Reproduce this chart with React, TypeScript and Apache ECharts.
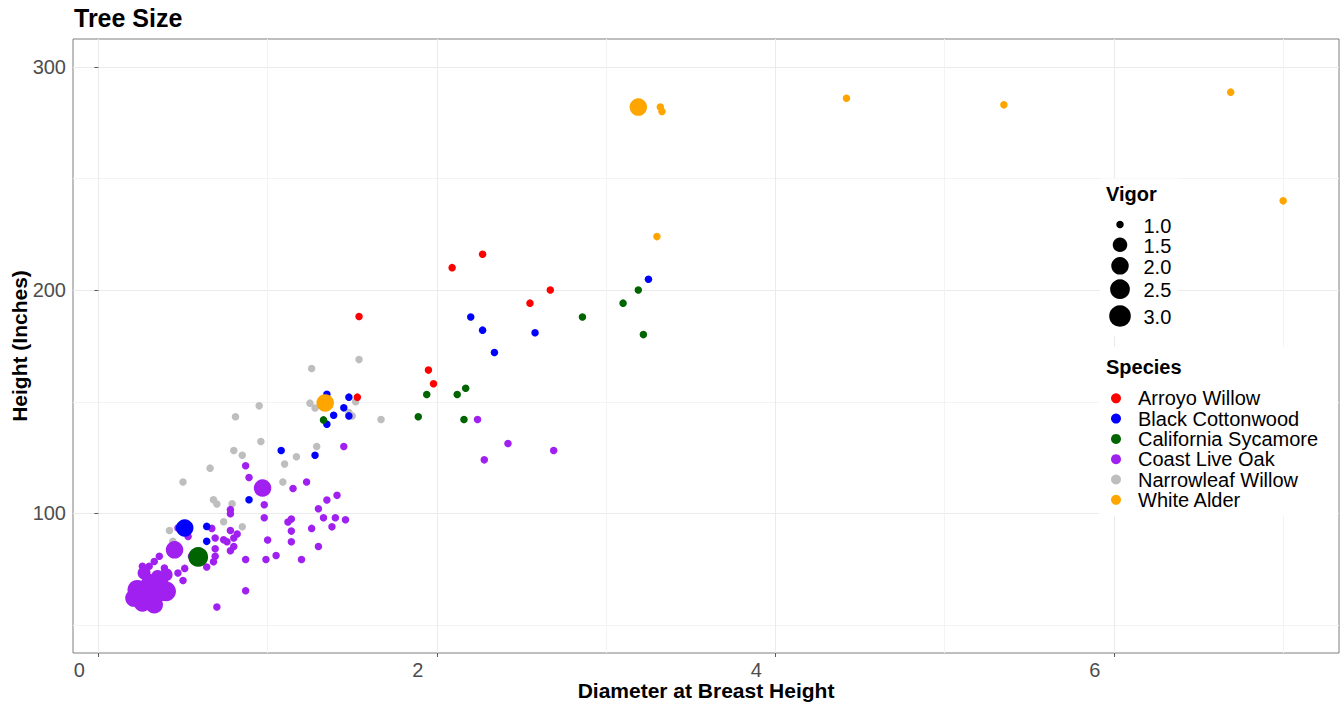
import React, { useEffect, useRef } from "react";
import * as echarts from "echarts";

// Tree measurements: [diameter at breast height, height in inches, vigor]
const arroyoWillow: number[][] = [
  [2.27, 216.1, 1], [2.09, 210.1, 1], [2.67, 200.1, 1], [2.55, 194.2, 1],
  [1.95, 164.2, 1], [1.98, 158.1, 1], [1.54, 188.2, 1], [1.53, 152.1, 1],
];

const blackCottonwood: number[][] = [
  [3.25, 204.9, 1], [2.2, 188.0, 1], [2.27, 182.1, 1], [2.58, 180.9, 1],
  [2.34, 172.1, 1], [1.35, 153.4, 1], [1.48, 152.1, 1], [1.45, 147.3, 1],
  [1.39, 144.0, 1], [1.35, 140.0, 1], [1.48, 143.7, 1], [1.08, 128.2, 1],
  [1.28, 126.1, 1], [0.89, 106.1, 1], [0.51, 93.5, 2], [0.64, 94.2, 1],
  [0.64, 87.5, 1],
];

const californiaSycamore: number[][] = [
  [3.19, 200.1, 1], [3.1, 194.2, 1], [2.86, 188.0, 1], [3.22, 180.1, 1],
  [2.17, 156.1, 1], [2.12, 153.3, 1], [1.94, 153.3, 1], [1.89, 143.3, 1],
  [2.16, 142.1, 1], [1.33, 141.9, 1], [0.59, 80.5, 2.5],
];

const coastLiveOak: number[][] = [
  [2.24, 142.1, 1], [2.42, 131.3, 1], [2.69, 128.2, 1], [2.28, 124.0, 1],
  [1.45, 130.0, 1], [0.87, 121.4, 1], [0.89, 116.1, 1], [0.97, 111.4, 2],
  [1.15, 111.2, 1], [1.23, 114.1, 1], [1.41, 108.1, 1], [1.35, 106.0, 1],
  [1.3, 102.1, 1], [0.98, 103.9, 1], [0.78, 101.7, 1], [0.78, 99.9, 1],
  [0.98, 98.1, 1], [1.14, 97.5, 1], [1.12, 96.2, 1], [1.33, 98.1, 1],
  [1.4, 98.1, 1], [1.46, 97.2, 1], [1.26, 93.3, 1], [1.38, 94.0, 1],
  [1.14, 92.1, 1], [1.14, 87.3, 1], [1.3, 85.2, 1], [1.0, 88.1, 1],
  [1.05, 81.2, 1], [0.87, 79.4, 1], [0.99, 79.4, 1], [1.2, 79.4, 1],
  [0.78, 92.4, 1], [0.82, 90.8, 1], [0.8, 89.0, 1], [0.67, 93.3, 1],
  [0.69, 89.0, 1], [0.74, 88.2, 1], [0.76, 87.3, 1], [0.8, 85.2, 1],
  [0.78, 83.3, 1], [0.69, 84.2, 1], [0.69, 80.8, 1], [0.68, 78.4, 1],
  [0.45, 83.7, 2], [0.47, 93.5, 1], [0.64, 76.0, 1], [0.51, 75.4, 1],
  [0.47, 73.3, 1], [0.53, 89.7, 1], [0.55, 80.8, 1], [0.5, 70.0, 1],
  [0.87, 65.4, 1], [0.7, 58.1, 1],
  [0.36, 80.8, 1], [0.33, 78.5, 1], [0.3, 76.3, 1], [0.26, 76.3, 1],
  [0.27, 73.3, 1.3], [0.39, 75.6, 1], [0.4, 72.6, 1.3], [0.35, 71.8, 1.3],
  [0.31, 69.6, 1.5], [0.23, 65.8, 2.5], [0.29, 64.4, 2.5], [0.37, 65.1, 2.5],
  [0.4, 65.1, 2.5], [0.26, 59.9, 2], [0.33, 59.1, 2], [0.21, 62.1, 2],
  [0.3, 68.1, 2], [0.37, 67.3, 2],
];

const narrowleafWillow: number[][] = [
  [1.54, 168.9, 1], [1.26, 164.9, 1], [1.25, 149.4, 1], [1.28, 147.2, 1],
  [1.52, 150.0, 1], [1.48, 145.2, 1], [1.5, 143.7, 1], [1.67, 142.1, 1],
  [0.95, 148.2, 1], [0.81, 143.3, 1], [0.96, 132.2, 1], [0.8, 128.2, 1],
  [0.85, 126.1, 1], [1.29, 130.0, 1], [1.17, 125.4, 1], [1.1, 122.1, 1],
  [0.66, 120.3, 1], [0.5, 114.1, 1], [1.09, 114.1, 1], [0.68, 106.1, 1],
  [0.7, 104.2, 1], [0.79, 104.3, 1], [0.74, 96.3, 1], [0.85, 94.0, 1],
  [0.42, 92.4, 1], [0.44, 87.5, 1],
];

const whiteAlder: number[][] = [
  [3.19, 282.0, 2], [3.32, 282.0, 1], [3.33, 280.0, 1], [4.42, 286.0, 1],
  [5.35, 283.0, 1], [6.69, 288.7, 1], [7.0, 240.0, 1], [3.3, 224.0, 1],
  [1.34, 149.5, 2],
];

const speciesNames = [
  "Arroyo Willow",
  "Black Cottonwood",
  "California Sycamore",
  "Coast Live Oak",
  "Narrowleaf Willow",
  "White Alder",
];

const vigorBreaks = [1.0, 1.5, 2.0, 2.5, 3.0];
const xTicks = [0, 2, 4, 6];
const yTicks = [100, 200, 300];

const FONT = "'Liberation Sans', Arial, sans-serif";

// Point diameter grows with the square root of vigor above 1 (area scale)
const sizeFor = (v: number) => 7.5 + 10 * Math.sqrt(Math.max(v - 1, 0));

export default function App() {
  const ref = useRef<HTMLDivElement>(null);

  useEffect(() => {
    document.body.style.margin = "0";
    if (!ref.current) return;
    const chart = echarts.init(ref.current, undefined, { renderer: "svg" });

    // drawing order: later series sit on top
    const layers: [string, number[][], string][] = [
      ["Narrowleaf Willow", narrowleafWillow, "#BEBEBE"],
      ["Coast Live Oak", coastLiveOak, "#A020F0"],
      ["Black Cottonwood", blackCottonwood, "#0000FF"],
      ["California Sycamore", californiaSycamore, "#006400"],
      ["Arroyo Willow", arroyoWillow, "#FF0000"],
      ["White Alder", whiteAlder, "#FFA500"],
    ];

    const series = layers.map(([name, data, color]) => ({
      name,
      type: "scatter",
      data,
      symbol: "circle",
      symbolSize: (val: number[]) => sizeFor(val[2]),
      itemStyle: { color, opacity: 1 },
      emphasis: { disabled: true },
      silent: true,
    }));

    // legend panels and the size legend (Vigor)
    const vigorRowsY = [224.5, 244.8, 265.8, 289.2, 316];
    const legendElements: any[] = [
      {
        type: "rect",
        shape: { x: 1100, y: 178.5, width: 78, height: 157 },
        style: { fill: "#ffffff" },
        z: 1,
      },
      {
        type: "rect",
        shape: { x: 1099, y: 347, width: 239, height: 169 },
        style: { fill: "#ffffff" },
        z: 1,
      },
      {
        type: "text",
        x: 1106,
        y: 194,
        style: {
          text: "Vigor",
          font: `bold 20px ${FONT}`,
          fill: "#000",
          verticalAlign: "middle",
        },
        z: 5,
      },
      {
        type: "text",
        x: 1106,
        y: 367,
        style: {
          text: "Species",
          font: `bold 20px ${FONT}`,
          fill: "#000",
          verticalAlign: "middle",
        },
        z: 5,
      },
    ];
    vigorBreaks.forEach((v, i) => {
      legendElements.push({
        type: "circle",
        shape: { cx: 1120, cy: vigorRowsY[i], r: sizeFor(v) / 2 },
        style: { fill: "#000" },
        z: 5,
      });
      legendElements.push({
        type: "text",
        x: 1143.5,
        y: vigorRowsY[i] + 1,
        style: {
          text: v.toFixed(1),
          font: `20px ${FONT}`,
          fill: "#000",
          verticalAlign: "middle",
        },
        z: 5,
      });
    });

    chart.setOption({
      animation: false,
      backgroundColor: "#ffffff",
      title: {
        text: "Tree Size",
        left: 74,
        top: 5,
        padding: 0,
        textStyle: {
          fontFamily: FONT,
          fontSize: 25,
          fontWeight: "bold",
          color: "#000",
        },
      },
      grid: {
        left: 73,
        right: 2,
        top: 39,
        bottom: 51,
        containLabel: false,
        outerBoundsMode: "none",
        show: true,
        borderColor: "#7f7f7f",
        borderWidth: 1,
        backgroundColor: "transparent",
      },
      legend: {
        data: speciesNames,
        orient: "vertical",
        left: 1111,
        top: 388.3,
        padding: 0,
        itemGap: 0.3,
        itemWidth: 34,
        itemHeight: 10,
        icon: "circle",
        selectedMode: false,
        textStyle: {
          fontFamily: FONT,
          fontSize: 20,
          lineHeight: 20,
          color: "#000",
        },
      },
      xAxis: {
        type: "value",
        min: -0.15,
        max: 7.33,
        splitNumber: 4,
        minInterval: 2,
        maxInterval: 2,
        name: "Diameter at Breast Height",
        nameLocation: "middle",
        nameGap: 27,
        nameMoveOverlap: false,
        nameTextStyle: {
          fontFamily: FONT,
          fontSize: 21,
          fontWeight: "bold",
          color: "#000",
        },
        axisLine: { show: false },
        axisTick: {
          show: true,
          length: 4,
          customValues: xTicks,
          lineStyle: { color: "#5a5a5a" },
        },
        axisLabel: {
          customValues: xTicks,
          fontFamily: FONT,
          fontSize: 20,
          color: "#4d4d4d",
          margin: 7,
          padding: [0, 38, 0, 0],
        },
        splitLine: { show: true, lineStyle: { color: "#ebebeb", width: 1 } },
        minorTick: { show: false, splitNumber: 2 },
        minorSplitLine: { show: true, lineStyle: { color: "#f3f3f3", width: 1 } },
      },
      yAxis: {
        type: "value",
        min: 37.5,
        max: 312.5,
        splitNumber: 3,
        minInterval: 100,
        maxInterval: 100,
        name: "Height (Inches)",
        nameLocation: "middle",
        nameGap: 43,
        nameMoveOverlap: false,
        nameTextStyle: {
          fontFamily: FONT,
          fontSize: 21,
          fontWeight: "bold",
          color: "#000",
        },
        axisLine: { show: false },
        axisTick: {
          show: true,
          length: 4,
          customValues: yTicks,
          lineStyle: { color: "#5a5a5a" },
        },
        axisLabel: {
          customValues: yTicks,
          fontFamily: FONT,
          fontSize: 20,
          color: "#4d4d4d",
          margin: 7,
        },
        splitLine: { show: true, lineStyle: { color: "#ebebeb", width: 1 } },
        minorTick: { show: false, splitNumber: 2 },
        minorSplitLine: { show: true, lineStyle: { color: "#f3f3f3", width: 1 } },
      },
      graphic: { elements: legendElements },
      series,
    });

    return () => {
      chart.dispose();
    };
  }, []);

  return <div ref={ref} style={{ width: 1341, height: 704 }} />;
}
